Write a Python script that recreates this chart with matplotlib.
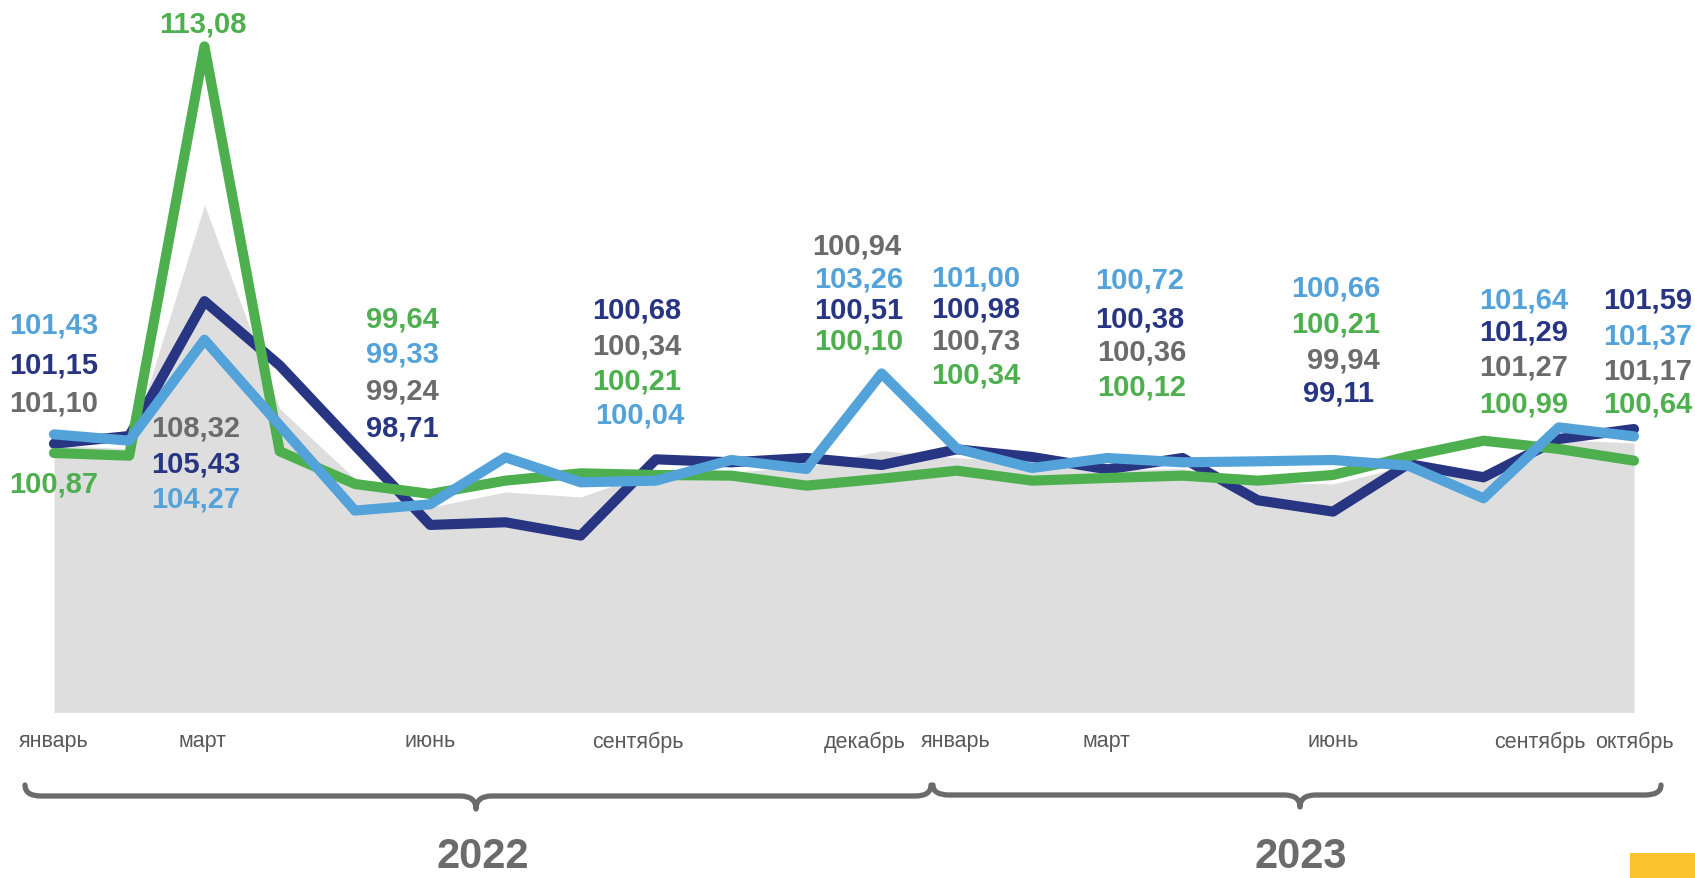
import matplotlib
matplotlib.use("Agg")
import matplotlib.pyplot as plt
from matplotlib.path import Path
from matplotlib.patches import PathPatch, Rectangle

plt.rcParams['font.family'] = ['Liberation Sans', 'DejaVu Sans']

# ---------------- data ----------------
months = ["январь", "февраль", "март", "апрель", "май", "июнь", "июль", "август",
          "сентябрь", "октябрь", "ноябрь", "декабрь",
          "январь", "февраль", "март", "апрель", "май", "июнь", "июль", "август",
          "сентябрь", "октябрь"]
years = ["2022", "2023"]
gray_total = [101.10, 101.00, 108.32, 102.20, 100.10, 99.24, 99.70, 99.55, 100.34, 100.30, 100.45, 100.94,
              100.73, 100.60, 100.36, 100.40, 100.00, 99.94, 100.50, 100.34, 101.27, 101.17]
navy = [101.15, 101.38, 105.43, 103.50, 101.10, 98.71, 98.79, 98.39, 100.68, 100.59, 100.72, 100.51,
        100.98, 100.75, 100.38, 100.72, 99.45, 99.11, 100.54, 100.14, 101.29, 101.59]
light_blue = [101.43, 101.24, 104.27, 101.70, 99.14, 99.33, 100.74, 99.99, 100.04, 100.66, 100.39, 103.26,
              101.00, 100.42, 100.72, 100.59, 100.62, 100.66, 100.49, 99.51, 101.64, 101.37]
green = [100.87, 100.79, 113.08, 100.92, 99.94, 99.64, 100.04, 100.26, 100.21, 100.19, 99.89, 100.10,
         100.34, 100.04, 100.12, 100.19, 100.04, 100.21, 100.77, 101.24, 100.99, 100.64]
shown_month_idx = [0, 2, 5, 8, 11, 12, 14, 17, 20, 21]

# ---------------- styles / layout ----------------
W, H = 1695, 879
C_GRAY_FILL = "#dedede"
C_GRAY = "#6b6b6b"
C_NAVY = "#283583"
C_LB = "#53a2da"
C_GREEN = "#4daf4e"
series = {"gray": (gray_total, C_GRAY), "navy": (navy, C_NAVY),
          "lb": (light_blue, C_LB), "green": (green, C_GREEN)}

fig = plt.figure(figsize=(W / 100, H / 100), dpi=100)
fig.patch.set_facecolor("white")

x_left, x_right = 54, 1634
y_ref_px, v_ref, px_per_unit = 454.0, 100.87, 33.3
v_top = v_ref + y_ref_px / px_per_unit
v_bot = v_ref - (H - y_ref_px) / px_per_unit
baseline = 93.08

ax = fig.add_axes([x_left / W, 0, (x_right - x_left) / W, 1])
ax.set_xlim(0, len(months) - 1)
ax.set_ylim(v_bot, v_top)
ax.axis("off")

xs = list(range(len(months)))
ax.fill_between(xs, baseline, gray_total, color=C_GRAY_FILL, lw=0, zorder=1)
for key, z in (("navy", 3), ("green", 4), ("lb", 5)):
    vals, col = series[key]
    ax.plot(xs, vals, color=col, lw=7.3, solid_joinstyle="round",
            solid_capstyle="round", clip_on=False, zorder=z)

# overlay axes in pixel coordinates for annotations
ov = fig.add_axes([0, 0, 1, 1])
ov.set_xlim(0, W)
ov.set_ylim(H, 0)
ov.axis("off")
ov.patch.set_alpha(0)

def fmt(v):
    return f"{v:.2f}".replace(".", ",")

# data-label layout: group x centre and (series, y centre[, x centre])
label_layout = [
    (54, [("lb", 323), ("navy", 363), ("gray", 401), ("green", 482)]),
    (196, [("green", 22, 203), ("gray", 426), ("navy", 462), ("lb", 497)]),
    (402, [("green", 317), ("lb", 352), ("gray", 389), ("navy", 426)]),
    (637, [("navy", 308), ("gray", 344), ("green", 379), ("lb", 413, 640)]),
    (859, [("gray", 244, 857), ("lb", 277), ("navy", 308), ("green", 339)]),
    (976, [("lb", 276), ("navy", 307), ("gray", 339), ("green", 373)]),
    (1140, [("lb", 278), ("navy", 317), ("gray", 350, 1142), ("green", 385, 1142)]),
    (1338, [("lb", 286, 1336), ("green", 322, 1336), ("gray", 358, 1343), ("navy", 391)]),
    (1524, [("lb", 298), ("navy", 330), ("gray", 365), ("green", 402)]),
    (1648, [("navy", 298), ("lb", 334), ("gray", 369), ("green", 402)]),
]
fs_lab = 21
digit_half = 0.716 * fs_lab * 100 / 72 / 2
for idx, (gx, items) in zip(shown_month_idx, label_layout):
    for it in items:
        key, yc = it[0], it[1]
        xc = it[2] if len(it) > 2 else gx
        vals, col = series[key]
        ov.text(xc, yc + digit_half, fmt(vals[idx]), color=col, fontsize=fs_lab,
                fontweight="bold", ha="center", va="baseline", zorder=10)

# month labels
month_label_x = {0: 54, 2: 203, 5: 430, 8: 638, 11: 865, 12: 956, 14: 1107, 17: 1333, 20: 1540, 21: 1634}
for i, xp in month_label_x.items():
    ov.text(xp, 742, months[i], color="#595959", fontsize=15.5, ha="center", va="center")

# braces
def brace(x0, x1, xm, y_tip, y_bar, y_mid, r=16):
    verts = [(x0, y_tip), (x0, y_bar), (x0 + r, y_bar),
             (xm - r, y_bar), (xm, y_bar), (xm, y_mid),
             (xm, y_bar), (xm + r, y_bar),
             (x1 - r, y_bar), (x1, y_bar), (x1, y_tip)]
    codes = [Path.MOVETO, Path.CURVE3, Path.CURVE3,
             Path.LINETO, Path.CURVE3, Path.CURVE3,
             Path.CURVE3, Path.CURVE3,
             Path.LINETO, Path.CURVE3, Path.CURVE3]
    ov.add_patch(PathPatch(Path(verts, codes), fill=False, ec="#6b6b6b", lw=3.8,
                           capstyle="round", joinstyle="round"))

brace(25, 931, 476, 786, 797, 810)
brace(933, 1661, 1300, 786, 796, 808)

ov.text(483, 868, years[0], color="#6b6b6b", fontsize=30, fontweight="bold", ha="center", va="baseline")
ov.text(1301, 868, years[1], color="#6b6b6b", fontsize=30, fontweight="bold", ha="center", va="baseline")

ov.add_patch(Rectangle((1630, 854), 70, 30, color="#fcc22e", lw=0))

fig.savefig("out.png", dpi=100)
